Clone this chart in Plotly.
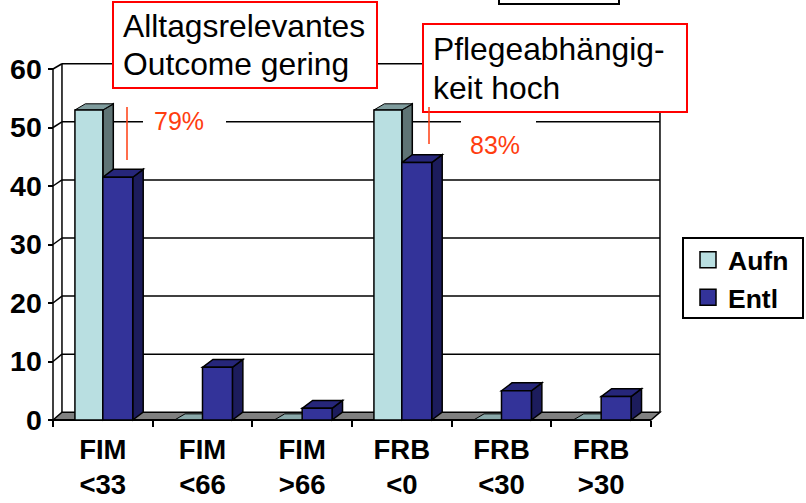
import plotly.graph_objects as go

categories = ["FIM<br><33", "FIM<br><66", "FIM<br>>66", "FRB<br><0", "FRB<br><30", "FRB<br>>30"]
aufn = [53, 0, 0, 53, 0, 0]
entl = [41.5, 9, 2, 44, 5, 4]
y_ticks = [0, 10, 20, 30, 40, 50, 60]

FONT = "Liberation Sans"
AUFN_C, AUFN_SIDE, AUFN_TOP, AUFN_ZERO = "#B9DFE1", "#5F7475", "#7F9C9D", "#8AA9AA"
ENTL_C, ENTL_SIDE, ENTL_TOP = "#333399", "#1C1C5C", "#26267A"
ORANGE = "#FF3D10"
L, R, T, B = 50, 664, 60, 423   # plot area in window pixels
WX = 0.09                       # back-wall depth in category units
BX, AY, EY = 0.105, 1.05, 1.35  # bar depth in data units
AW, EW = 0.28, 0.30             # bar widths in category units


def back(v):
    """Value of the front scale at which a back-wall level v is drawn."""
    return 1.32 + 0.993 * v


def pap_x(p):
    return (p - L) / (R - L)


def pap_y(p):
    return (B - p) / (B - T)


def poly(points, fill, width=1.5, color="black", layer="between"):
    path = "M " + " L ".join(f"{x:.4f},{y:.4f}" for x, y in points) + " Z"
    return dict(type="path", path=path, xref="x", yref="y", fillcolor=fill,
                line=dict(color=color, width=width), layer=layer)


def seg(x0, y0, x1, y1, width=1.5):
    return dict(type="line", xref="x", yref="y", x0=x0, y0=y0, x1=x1, y1=y1,
                line=dict(color="black", width=width), layer="between")


def paper_rect(x0, y0, x1, y1, fill, line_color, width=2):
    return dict(type="rect", xref="paper", yref="paper", x0=pap_x(x0), x1=pap_x(x1),
                y0=pap_y(y0), y1=pap_y(y1), fillcolor=fill,
                line=dict(color=line_color, width=width), layer="above")


def paper_line(x0, y0, x1, y1, color, width=1.5):
    return dict(type="line", xref="paper", yref="paper", x0=pap_x(x0), x1=pap_x(x1),
                y0=pap_y(y0), y1=pap_y(y1), line=dict(color=color, width=width), layer="above")


x_lo, x_hi = -0.5, 5.5
shapes = []
# floor
shapes.append(poly([(x_lo, 0), (x_lo + WX, back(0)), (x_hi + WX, back(0)), (x_hi, 0)], "#808080"))
# walls and grid
for v in y_ticks[1:]:
    shapes.append(seg(x_lo, v, x_lo + WX, back(v)))
    shapes.append(seg(x_lo + WX, back(v), x_hi + WX, back(v)))
shapes.append(seg(x_lo, 0, x_lo, 60))
shapes.append(seg(x_lo + WX, back(0), x_lo + WX, back(60)))
shapes.append(seg(x_hi + WX, back(0), x_hi + WX, back(60)))
shapes.append(seg(x_lo, 0, x_hi, 0, 2))

# depth faces of the bars
for i, (a, e) in enumerate(zip(aufn, entl)):
    if a > 0:
        shapes.append(poly([(i, 0), (i + BX, AY), (i + BX, a + AY), (i, a)], AUFN_SIDE))
    top = AUFN_TOP if a > 0 else AUFN_ZERO
    shapes.append(poly([(i - AW, a), (i - AW + BX, a + AY), (i + BX, a + AY), (i, a)], top, width=1))
    shapes.append(poly([(i + EW, 0), (i + EW + BX, EY), (i + EW + BX, e + EY), (i + EW, e)], ENTL_SIDE))
    shapes.append(poly([(i, e), (i + BX, e + EY), (i + EW + BX, e + EY), (i + EW, e)], ENTL_TOP))

# overlays
shapes += [
    paper_rect(143, 106, 226, 135, "white", "rgba(0,0,0,0)", 0),
    paper_rect(461, 121, 536, 155, "white", "rgba(0,0,0,0)", 0),
    paper_rect(113, 2, 377, 88, "white", "#FF0000"),
    paper_rect(423, 24, 687, 112, "white", "#FF0000"),
    paper_rect(499, -8, 619, 4, "white", "black"),
    paper_rect(683, 238, 803, 318, "white", "black"),
    paper_line(127, 107, 127, 160, ORANGE),
    paper_line(429, 107, 429, 144, ORANGE),
]


def label(text, x, y, size=31.8, color="black"):
    return dict(text=text, xref="paper", yref="paper", x=pap_x(x), y=pap_y(y),
                xanchor="left", yanchor="middle", showarrow=False,
                font=dict(family=FONT, size=size, color=color))


annotations = [
    label("Alltagsrelevantes", 120.8, 26.5),
    label("Outcome gering", 120.8, 64.3),
    label("Pflegeabhängig-", 431, 49.5),
    label("keit hoch", 431, 87.5),
    label("79%", 151.5, 121, 25, ORANGE),
    label("83%", 468, 145, 25, ORANGE),
]

fig = go.Figure()
fig.add_bar(x=categories, y=aufn, name="Aufn", showlegend=False, offset=-AW, width=AW,
            marker=dict(color=AUFN_C, line=dict(color="black", width=1.5)))
fig.add_bar(x=categories, y=entl, name="Entl", showlegend=False, offset=0, width=EW,
            marker=dict(color=ENTL_C, line=dict(color="black", width=1.5)))
for name, color in (("Aufn", AUFN_C), ("Entl", ENTL_C)):
    fig.add_scatter(x=[None], y=[None], mode="markers", name=name,
                    marker=dict(symbol="square", size=18, color=color,
                                line=dict(color="black", width=1.5)))

fig.update_layout(
    width=806, height=503, autosize=False,
    margin=dict(l=L, r=806 - R, t=T, b=503 - B, pad=0, autoexpand=False),
    paper_bgcolor="white", plot_bgcolor="white",
    barmode="overlay",
    font=dict(family=FONT, color="black"),
    shapes=shapes, annotations=annotations,
    legend=dict(xref="container", yref="container", x=688 / 806, y=1 - 236 / 503,
                xanchor="left", yanchor="top",
                bgcolor="rgba(0,0,0,0)", borderwidth=0,
                font=dict(family=FONT, size=26.5, color="black", weight="bold"),
                itemclick=False, itemdoubleclick=False),
)
fig.update_xaxes(
    type="category", categoryorder="array", categoryarray=categories,
    range=[-0.5 - 3 / 99.67, 5.5 + 13 / 99.67], anchor="free", position=3 / (B - T),
    showgrid=False, zeroline=False, showline=False,
    ticks="outside", tickson="boundaries", ticklen=6, tickwidth=1.5, tickcolor="black",
    ticklabelstandoff=10,
    tickangle=0, tickfont=dict(family=FONT, size=27.5, color="black", weight="bold"),
)
fig.update_yaxes(
    range=[-3 / 5.85, 60 + 9 / 5.85], anchor="free", position=3 / (R - L),
    tickvals=y_ticks, showgrid=False, zeroline=False, showline=False,
    ticks="outside", ticklen=5.5, tickwidth=1.5, tickcolor="black",
    tickfont=dict(family=FONT, size=28.5, color="black", weight="bold"),
)
fig.write_html("out.html", config=dict(displayModeBar=False),
               post_script="document.body.style.margin='0';document.documentElement.style.overflow='hidden';")
